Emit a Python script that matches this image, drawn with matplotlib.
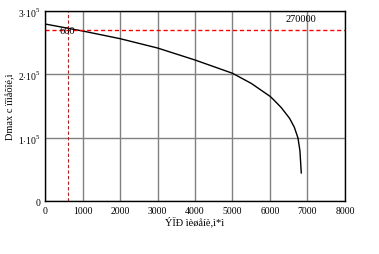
import numpy as np
import matplotlib.pyplot as plt

# curve
rcs = [0, 1000, 2000, 3000, 4000, 5000, 5500, 6000, 6078, 6300, 6523, 6650, 6748, 6800, 6836]
dmax = [279500, 268500, 256400, 241700, 222800, 201900, 186000, 165700, 161400, 148000,
        131000, 117000, 100000, 80000, 45000]
x_mark = 600
y_mark = 270000
xticks = [0, 1000, 2000, 3000, 4000, 5000, 6000, 7000, 8000]
yticks = [0, 100000, 200000, 300000]
ytick_labels = ['0', r'$1{\cdot}10^5$', r'$2{\cdot}10^5$', r'$3{\cdot}10^5$']

plt.rcParams['font.family'] = ['Liberation Serif', 'DejaVu Serif']
plt.rcParams['mathtext.fontset'] = 'custom'
plt.rcParams['mathtext.rm'] = 'Liberation Serif'

fig = plt.figure(figsize=(3.79, 2.55), dpi=100)
ax = fig.add_axes([0.119, 0.206, 0.791, 0.747])

ax.plot(rcs, dmax, color='black', lw=1.0)
ax.axhline(y_mark, color='red', ls=(0, (3, 2)), lw=1.0)
ax.axvline(x_mark, color='red', ls=(0, (3, 2)), lw=0.8)

ax.set_xlim(0, 8000)
ax.set_ylim(0, 300000)
ax.set_xticks(xticks)
ax.set_yticks(yticks)
ax.set_xticklabels([str(t) for t in xticks])
ax.set_yticklabels(ytick_labels)
ax.tick_params(length=0, labelsize=7, pad=3)
ax.grid(True, color='gray', lw=1.0)
ax.set_axisbelow(True)
for s in ax.spines.values():
    s.set_linewidth(1.0)
    s.set_color('black')

ax.text(x_mark, y_mark, '600', fontsize=7.5, ha='center', va='center')
ax.text(0.802, 0.985, '270000', transform=ax.transAxes, fontsize=7.5, ha='left', va='top')

ax.set_xlabel('ÝÏÐ ìèøåíè,ì*ì', fontsize=7.5, labelpad=1)
ax.set_ylabel('Dmax c ïîìåõîé,ì', fontsize=7.5, labelpad=2)

fig.savefig('out.png', dpi=100)
